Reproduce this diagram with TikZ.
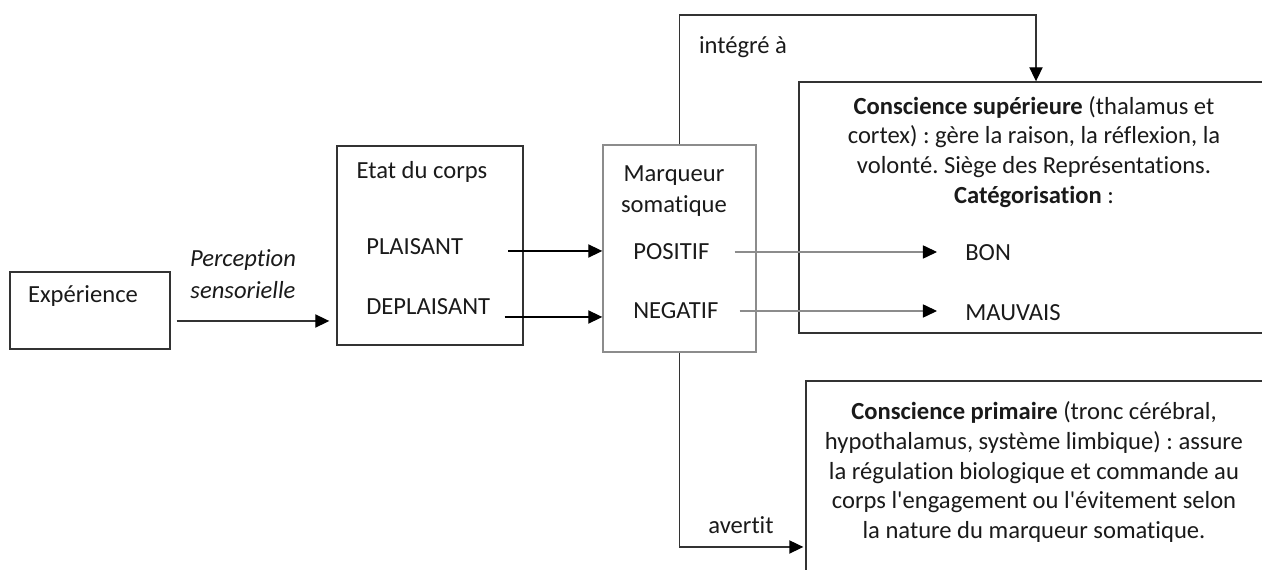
\documentclass[tikz,border=0pt]{standalone}
\usepackage{fontspec}
\setmainfont{Carlito}[Ligatures=NoCommon]
\usetikzlibrary{arrows.meta, positioning}
\definecolor{linegray}{HTML}{333333}
\definecolor{lightgray}{HTML}{8C8C8C}
\definecolor{inkgray}{HTML}{1A1A1A}
\frenchspacing

\begin{document}
\begin{tikzpicture}[x=0.02cm, y=-0.02cm,
    font=\fontsize{14}{17}\selectfont, text=inkgray,
    box/.style={draw=linegray, line width=0.8pt, inner sep=0pt},
    lbl/.style={inner sep=0pt, anchor=west},
    arr/.style={-{Triangle[length=8pt, width=7.5pt, color=black]}, line width=0.8pt},
    thinarr/.style={-{Triangle[length=8pt, width=7.5pt, color=black]}, draw=lightgray, line width=0.6pt}]

    \useasboundingbox (0,0) rectangle (1262,570);
    \clip (0,0) rectangle (1262,570);

    % Boxes
    \node[box, minimum width=3.2cm, minimum height=1.54cm] (exp) at (90,310.5) {};
    \node[box, minimum width=3.72cm, minimum height=3.98cm] (etat) at (430,245.5) {};
    \node[box, draw=lightgray, minimum width=3.06cm, minimum height=4.14cm] (mq) at (679.5,248.5) {};
    \node[box, minimum width=10.02cm, minimum height=5.02cm] (sup) at (1049.5,207.5) {};
    \node[box, minimum width=9.88cm, minimum height=4.38cm] (prim) at (1053,490.5) {};

    % Texts
    \node[inner sep=0pt] (exptxt) at (83,296) {Expérience};
    \node[inner sep=0pt, align=center, font=\fontsize{14}{17}\selectfont\itshape] (perc) at (243,274) {Perception\\[1pt]sensorielle};
    \node[inner sep=0pt] (etattxt) at (422,172) {Etat du corps};
    \node[lbl] (pl) at (366,247) {PLAISANT};
    \node[lbl] (dpl) at (366,307) {DEPLAISANT};
    \node[inner sep=0pt, align=center] (mqtxt) at (674,191) {Marqueur\\[1pt]somatique};
    \node[lbl] (pos) at (633,252) {POSITIF};
    \node[lbl] (neg) at (633,311) {NEGATIF};
    \node[lbl] (bon) at (965,253) {BON};
    \node[lbl] (mauv) at (965,313) {MAUVAIS};
    \node[inner sep=0pt, align=center] (suptxt) at (1034,152) {\textbf{Conscience supérieure} (thalamus et\\cortex) : gère la raison, la réflexion, la\\volonté. Siège des Représentations.\\\textbf{Catégorisation} :};
    \node[inner sep=0pt, align=center] (primtxt) at (1034,472) {\textbf{Conscience primaire} (tronc cérébral,\\hypothalamus, système limbique) : assure\\la régulation biologique et commande au\\corps l\textquotesingle engagement ou l\textquotesingle évitement selon\\la nature du marqueur somatique.};
    \node[inner sep=0pt] (integ) at (743,47) {intégré à};
    \node[inner sep=0pt] (avert) at (741,525) {avertit};

    % Connectors
    \draw[arr, draw=linegray, shorten >=0.14cm] ([shift={(0.12cm,-0.21cm)}]exp.east) -- ([yshift=-0.21cm]exp.east -| etat.west);
    \draw[arr] ([shift={(0.9cm,-0.08cm)}]pl.east) -- ([yshift=-0.08cm]pl.east -| mq.west);
    \draw[arr] ([shift={(0.28cm,-0.2cm)}]dpl.east) -- ([yshift=-0.2cm]dpl.east -| mq.west);
    \draw[thinarr, shorten >=0.56cm] ([xshift=0.5cm]pos.east) -- (pos.east -| bon.west);
    \draw[thinarr, shorten >=0.56cm] ([xshift=0.42cm]neg.east) -- (neg.east -| mauv.west);
    \coordinate (topc) at (1036,15);
    \draw[arr, draw=linegray] (mq.north) |- (topc) -- (topc |- sup.north);
    \draw[arr, draw=linegray, shorten >=0.04cm] (mq.south) |- ([yshift=-1.13cm]prim.west);

\end{tikzpicture}
\end{document}
